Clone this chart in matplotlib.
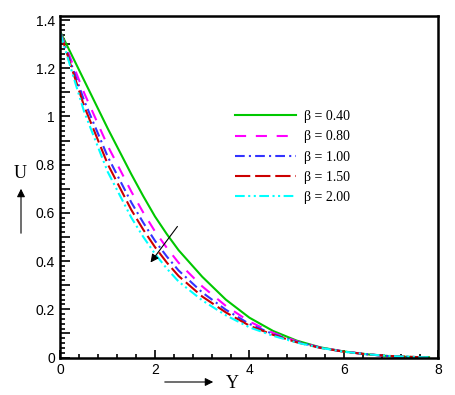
import matplotlib
matplotlib.use("Agg")
import matplotlib.pyplot as plt
from matplotlib.ticker import MultipleLocator, FuncFormatter

plt.rcParams['font.family'] = ['Liberation Sans', 'DejaVu Sans']
plt.rcParams['lines.scale_dashes'] = False

# data
Y = [0, 0.25, 0.5, 1.0, 1.5, 1.75, 2.0, 2.25, 2.5, 3.0, 3.5, 4.0, 4.5, 5.0, 5.5, 6.0, 6.5, 7.0, 7.5, 7.8]

U_040 = [1.350, 1.250, 1.150, 0.950, 0.760, 0.670, 0.585, 0.512, 0.445, 0.335, 0.240, 0.165, 0.110, 0.070, 0.042, 0.025, 0.013, 0.005, 0.002, 0.001]
U_080 = [1.347, 1.222, 1.098, 0.878, 0.688, 0.602, 0.523, 0.455, 0.393, 0.295, 0.214, 0.149, 0.102, 0.067, 0.041, 0.025, 0.013, 0.005, 0.002, 0.000]
U_100 = [1.346, 1.205, 1.066, 0.833, 0.643, 0.560, 0.484, 0.419, 0.361, 0.270, 0.198, 0.139, 0.097, 0.065, 0.041, 0.024, 0.013, 0.005, 0.002, 0.000]
U_150 = [1.346, 1.193, 1.043, 0.802, 0.612, 0.531, 0.458, 0.394, 0.338, 0.253, 0.187, 0.132, 0.094, 0.063, 0.040, 0.024, 0.013, 0.006, 0.002, 0.000]
U_200 = [1.345, 1.180, 1.020, 0.770, 0.580, 0.501, 0.430, 0.369, 0.315, 0.237, 0.175, 0.125, 0.090, 0.062, 0.040, 0.024, 0.013, 0.006, 0.002, 0.000]

labels = ['β = 0.40', 'β = 0.80', 'β = 1.00', 'β = 1.50', 'β = 2.00']
colors = ['#00c800', '#ff00ff', '#3333ff', '#cc0000', '#00ffff']
styles = ['-', (0, (8, 7)), (0, (7, 3, 1.5, 3)), (0, (11, 3.5)), (0, (7, 2.5, 1.5, 2.5, 1.5, 2.5))]

fig = plt.figure(figsize=(4.56, 3.95), dpi=100)
ax = fig.add_axes([60.5 / 456, 37.5 / 395, 378 / 456, 341.5 / 395])

for u, lab, c, ls in zip([U_040, U_080, U_100, U_150, U_200], labels, colors, styles):
    ax.plot(Y, u, color=c, linestyle=ls, lw=1.5, label=lab)

ax.set_xlim(0, 8)
ax.set_ylim(0, 1.417)

ax.xaxis.set_major_locator(MultipleLocator(2))
ax.xaxis.set_minor_locator(MultipleLocator(0.4))
ax.yaxis.set_major_locator(MultipleLocator(0.1))
ax.yaxis.set_minor_locator(MultipleLocator(0.02))
ax.yaxis.set_major_formatter(FuncFormatter(lambda v, p: '%g' % round(v, 1) if round(v * 10) % 2 == 0 else ''))
ax.xaxis.set_major_formatter(FuncFormatter(lambda v, p: '%g' % v))

ax.tick_params(which='both', direction='in', top=False, right=False, labelsize=10, width=1.2)
ax.tick_params(axis='y', which='major', length=7, pad=4)
ax.tick_params(axis='y', which='minor', length=3.5)
ax.tick_params(axis='x', which='major', length=6, pad=4)
ax.tick_params(axis='x', which='minor', length=3)
for s in ax.spines.values():
    s.set_linewidth(1.8)

leg = ax.legend(loc='upper left', bbox_to_anchor=(0.4616, 0.724), frameon=False,
                handlelength=4.4, handletextpad=0.6, labelspacing=0.52,
                borderpad=0, borderaxespad=0,
                prop={'family': 'Liberation Serif', 'size': 10})

# arrow showing increasing beta
ax.annotate('', xy=(1.87, 0.385), xytext=(2.51, 0.553),
            arrowprops=dict(arrowstyle='-|>', color='k', lw=0.8, mutation_scale=12))

# axis labels with arrows (figure pixels, origin bottom left)
ax.annotate('', xy=(21, 395 - 186), xytext=(21, 395 - 236), xycoords='figure pixels',
            textcoords='figure pixels',
            arrowprops=dict(arrowstyle='-|>', color='k', lw=0.8, mutation_scale=12))
fig.text(20 / 456, (395 - 174) / 395, 'U', family='Liberation Serif', fontsize=13,
         ha='center', va='center')

ax.annotate('', xy=(216, 395 - 382), xytext=(162, 395 - 382), xycoords='figure pixels',
            textcoords='figure pixels',
            arrowprops=dict(arrowstyle='-|>', color='k', lw=0.8, mutation_scale=12))
fig.text(232 / 456, (395 - 383) / 395, 'Y', family='Liberation Serif', fontsize=13,
         ha='center', va='center')

fig.savefig('out.png', dpi=100)
